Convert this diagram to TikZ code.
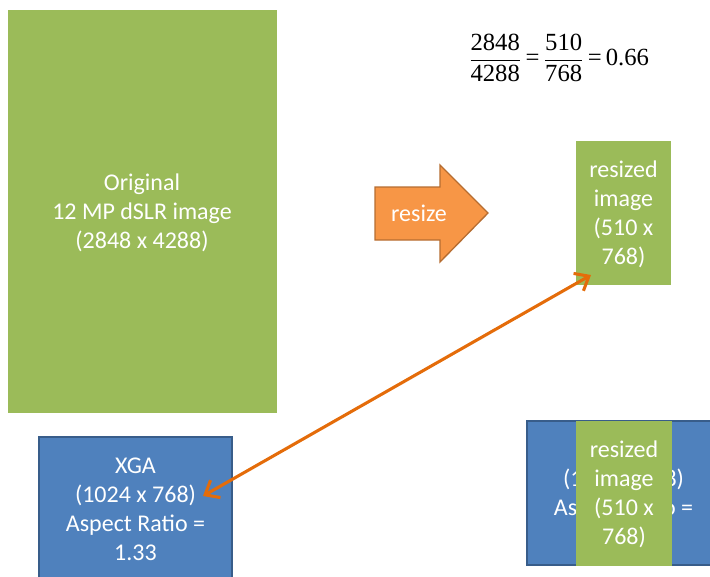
\documentclass[tikz,border=0pt]{standalone}
\usepackage{fontspec}
\setmainfont{Carlito}
\newfontfamily\tnr{Liberation Serif}
\usetikzlibrary{arrows.meta}
\definecolor{ogreen}{HTML}{9BBB59}
\definecolor{oblue}{HTML}{4F81BD}
\definecolor{obluedk}{HTML}{385D8A}
\definecolor{oorange}{HTML}{F79646}
\definecolor{oorangedk}{HTML}{B66D31}
\definecolor{arrorange}{HTML}{E46C0A}
\tikzset{
  lbl/.style={text=white, align=center, font=\fontsize{18}{21.75}\selectfont, inner sep=0pt},
  greenbox/.style={fill=ogreen, draw=none},
  bluebox/.style={fill=oblue, draw=obluedk, line width=1.5pt},
  link/.style={draw=arrorange, line width=2.3pt, {Straight Barb[length=9pt,width=15pt,line width=2.3pt]}-{Straight Barb[length=9pt,width=15pt,line width=2.3pt]}}
}
\begin{document}
\begin{tikzpicture}[x=0.75pt,y=-0.75pt]
\useasboundingbox (0,0) rectangle (710,576);
\clip (0,0) rectangle (710,576);
% original image
\fill[greenbox] (8,10) rectangle (277,413);
\node[lbl] (orig) at (142,213) {Original\\12 MP dSLR image\\(2848 x 4288)};
% equation
\node[inner sep=0pt] (eq) at (559,58) {\fontsize{18.5}{22}\selectfont$\displaystyle \frac{\hbox{\tnr 2848}}{\hbox{\tnr 4288}}\hbox{\tnr\,=\,}\frac{\hbox{\tnr 510}}{\hbox{\tnr 768}}\hbox{\tnr\,=\,0.66}$};
% resize arrow
\filldraw[fill=oorange, draw=oorangedk, line width=1pt]
  (375,187) -- (440,187) -- (440,165) -- (488,213) -- (440,262) -- (440,240) -- (375,240) -- cycle;
\node[lbl] (rs) at (419,213) {resize};
% resized image (top)
\fill[greenbox] (576,141) rectangle (671,285);
\node[lbl] (res1) at (623.5,214.5) {resized\\image\\(510 x\\768)};
% XGA box
\filldraw[bluebox] (39,437) rectangle (232,581);
\node[lbl] (xga) at (135.5,509.5) {XGA\\(1024 x 768)\\Aspect Ratio =\\1.33};
% right blue box with overlay
\filldraw[bluebox] (527,421) rectangle (720,565);
\node[lbl] (xga2) at (623.5,493.5) {XGA\\(1024 x 768)\\Aspect Ratio =\\1.33};
\fill[greenbox] (576,421) rectangle (672,566);
\node[lbl] (res2) at (624,494) {resized\\image\\(510 x\\768)};
% double arrow
\coordinate (a1) at (203,496);
\coordinate (a2) at (591,275);
\draw[link] (a1) -- (a2);
\end{tikzpicture}
\end{document}
